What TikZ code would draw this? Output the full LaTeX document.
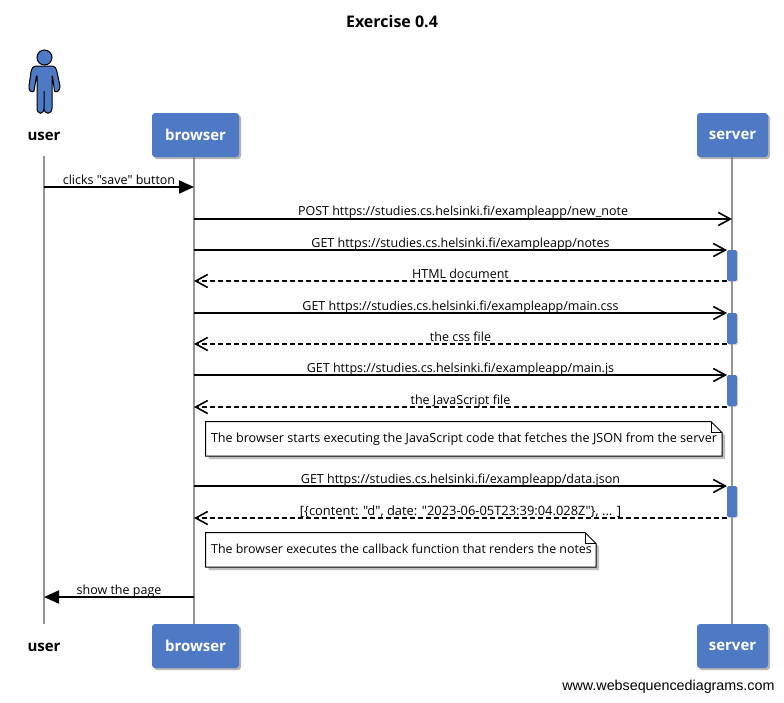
\documentclass[tikz,border=0pt]{standalone}
\usepackage{fontspec}
\setmainfont{Open Sans}[Ligatures=TeXOff]
\newfontfamily\wmfont{Liberation Sans}
\usetikzlibrary{arrows.meta,shadows,backgrounds}
\definecolor{actorblue}{HTML}{4E79C4}
\begin{document}
\begin{tikzpicture}[x=1pt,y=-1pt,line width=1pt]
	\tikzstyle{actor} = [shape = rectangle, rounded corners = 3pt, fill = actorblue, text = white, font = \fontsize{15}{18}\selectfont\bfseries, minimum height = 44pt, inner sep = 0pt, drop shadow = {shadow xshift = 2pt, shadow yshift = -2pt, opacity = 0.6}]
	\tikzstyle{plain} = [font = \fontsize{15}{18}\selectfont\bfseries, inner sep = 0pt]
	\tikzstyle{life} = [draw = black!42, line width = 2.4pt]
	\tikzstyle{act} = [shape = rectangle, rounded corners = 1.5pt, fill = actorblue, minimum width = 10pt, inner sep = 0pt, drop shadow = {shadow xshift = 1pt, shadow yshift = -1pt, opacity = 0.3}]
	\tikzstyle{msg} = [line width = 2pt, -{Straight Barb[length = 12pt, width = 13pt, line width = 1.6pt]}]
	\tikzstyle{ret} = [msg, dash pattern = on 5pt off 3pt]
	\tikzstyle{full} = [line width = 2pt, -{Triangle[length = 15pt, width = 13pt]}]
	\tikzstyle{lab} = [font = \fontsize{12.5}{14}\selectfont, inner sep = 0pt, anchor = base]
	\tikzstyle{notebox} = [fill = white, draw = black, line width = 1pt, drop shadow = {shadow xshift = 3pt, shadow yshift = -3pt, opacity = 0.5}]
	\useasboundingbox (0,0) rectangle (784,702);
	\node[inner sep = 0pt, font = \fontsize{16}{18}\selectfont\bfseries] (title) at (392,21.5) {Exercise 0.4};
	% top and bottom of the lifelines
	\node[plain] (U-top) at (44,136.5) {user};
	\node[plain] (U-bot) at (44,647.5) {user};
	\node[actor, minimum width = 87pt] (B-top) at (195.5,135) {browser};
	\node[actor, minimum width = 87pt] (B-bot) at (195.5,646) {browser};
	\node[actor, minimum width = 71pt] (S-top) at (732.5,135) {server};
	\node[actor, minimum width = 71pt] (S-bot) at (732.5,646) {server};
	\coordinate (U-a) at (44,156);
	\coordinate (U-b) at (44,624);
	\coordinate (B-a) at (194,157);
	\coordinate (B-b) at (194,625);
	\coordinate (S-a) at (732,157);
	\coordinate (S-b) at (732,625);
	\begin{scope}[on background layer]
		\draw[life] (U-a) -- (U-b);
		\draw[life] (B-a) -- (B-b);
		\draw[life] (S-a) -- (S-b);
	\end{scope}
	% the person
	\fill[actorblue, draw = black, line width = 1pt] (44,66) -- (51,66) .. controls (55,66) and (56,68) .. (57,72) -- (60,86) .. controls (60.5,91) and (56,93) .. (54.5,91) -- (52.5,76) -- (52,76) -- (52,108) .. controls (52,115) and (44,115) .. (44,108) -- (44,91) -- (44,108) .. controls (44,115) and (37,115) .. (37,108) -- (37,76) -- (36.5,76) -- (34,91) .. controls (32,93) and (28,91) .. (29,86) -- (31,72) .. controls (32,68) and (33,66) .. (37,66) -- cycle;
	\draw[fill = actorblue, line width = 1pt] (44.5,57.5) circle (7.5pt);
	% activations
	\node[act, minimum height = 31pt] (S-act1) at (732,265.5) {};
	\node[act, minimum height = 31pt] (S-act2) at (732,328.5) {};
	\node[act, minimum height = 31pt] (S-act3) at (732,390.5) {};
	\node[act, minimum height = 31pt] (S-act4) at (732,501.5) {};
	% messages
	\coordinate (U-1) at (44,187);
	\coordinate (B-1) at (194,187);
	\draw[full] (U-1) -- (B-1) node[lab, pos = 0.5, yshift = 3pt] (M-1) {clicks "save" button};
	\coordinate (B-2) at (194,219);
	\coordinate (S-2) at (732,219);
	\draw[msg] (B-2) -- (S-2) node[lab, pos = 0.5, yshift = 4pt] (M-2) {POST https://studies.cs.helsinki.fi/exampleapp/new\_note};
	\coordinate (B-3) at (194,250);
	\coordinate (S-3) at (727,250);
	\draw[msg] (B-3) -- (S-3) node[lab, pos = 0.5, yshift = 3pt] (M-3) {GET https://studies.cs.helsinki.fi/exampleapp/notes};
	\coordinate (B-4) at (194,281);
	\coordinate (S-4) at (727,281);
	\draw[ret] (S-4) -- (B-4) node[lab, pos = 0.5, yshift = 3pt] (M-4) {HTML document};
	\coordinate (B-5) at (194,313);
	\coordinate (S-5) at (727,313);
	\draw[msg] (B-5) -- (S-5) node[lab, pos = 0.5, yshift = 3pt] (M-5) {GET https://studies.cs.helsinki.fi/exampleapp/main.css};
	\coordinate (B-6) at (194,344);
	\coordinate (S-6) at (727,344);
	\draw[ret] (S-6) -- (B-6) node[lab, pos = 0.5, yshift = 3pt] (M-6) {the css file};
	\coordinate (B-7) at (194,375);
	\coordinate (S-7) at (727,375);
	\draw[msg] (B-7) -- (S-7) node[lab, pos = 0.5, yshift = 3pt] (M-7) {GET https://studies.cs.helsinki.fi/exampleapp/main.js};
	\coordinate (B-8) at (194,407);
	\coordinate (S-8) at (727,407);
	\draw[ret] (S-8) -- (B-8) node[lab, pos = 0.5, yshift = 3pt] (M-8) {the JavaScript file};
	\coordinate (B-9) at (194,486);
	\coordinate (S-9) at (727,486);
	\draw[msg] (B-9) -- (S-9) node[lab, pos = 0.5, yshift = 3pt] (M-9) {GET https://studies.cs.helsinki.fi/exampleapp/data.json};
	\coordinate (B-10) at (194,518);
	\coordinate (S-10) at (727,518);
	\draw[ret] (S-10) -- (B-10) node[lab, pos = 0.5, yshift = 3pt, font = \fontsize{12.9}{14}\selectfont] (M-10) {[\{content: "d", date: "2023-06-05T23:39:04.028Z"\}, ... ]};
	\coordinate (B-11) at (194,597);
	\coordinate (U-11) at (44,597);
	\draw[full] (B-11) -- (U-11) node[lab, pos = 0.5, yshift = 3pt] (M-11) {show the page};
	% notes
	\draw[notebox] (205.5,421.5) -- (711,421.5) -- (722,432.5) -- (722,456) -- (205.5,456) -- cycle;
	\draw[line width = 1pt] (711,421.5) -- (711,432.5) -- (722,432.5);
	\node[lab, font = \fontsize{12.6}{14}\selectfont] (N-1) at (464,442) {The browser starts executing the JavaScript code that fetches the JSON from the server};
	\draw[notebox] (205.5,532.5) -- (585,532.5) -- (596,543.5) -- (596,567) -- (205.5,567) -- cycle;
	\draw[line width = 1pt] (585,532.5) -- (585,543.5) -- (596,543.5);
	\node[lab, font = \fontsize{12.4}{14}\selectfont] (N-2) at (401.5,553) {The browser executes the callback function that renders the notes};
	\node[inner sep = 0pt, anchor = base east, font = \wmfont\fontsize{14.3}{16}\selectfont] (site) at (775,690.5) {www.websequencediagrams.com};
\end{tikzpicture}
\end{document}
